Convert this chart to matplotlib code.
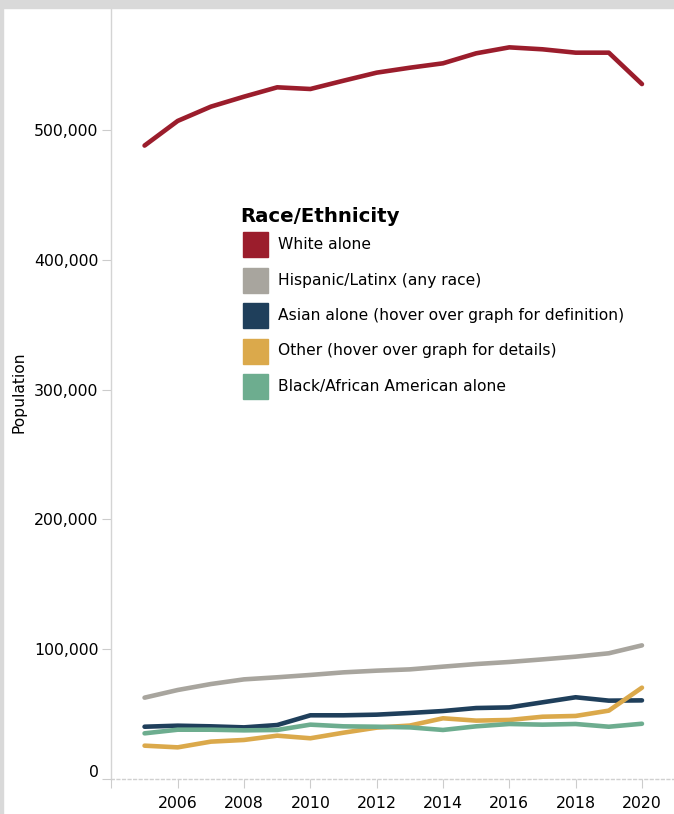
import matplotlib
matplotlib.use("Agg")
import matplotlib.pyplot as plt
from matplotlib.patches import Rectangle
from matplotlib.transforms import ScaledTranslation

plt.rcParams['font.family'] = ['DejaVu Sans']

years = list(range(2005, 2021))

white = [488000, 507000, 518000, 525700, 532900, 531600, 538000, 544200,
         548000, 551400, 559100, 563700, 562200, 559600, 559600, 535400]
hispanic = [62500, 68400, 73000, 76600, 78200, 80000, 82000, 83300,
            84300, 86400, 88400, 90000, 92000, 94100, 96700, 102800]
asian = [40100, 40900, 40400, 39600, 41400, 48900, 48900, 49400,
         50700, 52200, 54500, 55000, 58900, 62800, 60200, 60400]
black = [35000, 37800, 37800, 37300, 37600, 41700, 40400, 40100,
         39600, 37600, 40400, 42200, 41700, 42200, 40100, 42400]
other = [25500, 24200, 28600, 29900, 33200, 31200, 35500, 39400,
         41000, 46600, 44800, 45300, 47800, 48400, 52500, 70200]

series_names = ["White alone",
                "Hispanic/Latinx (any race)",
                "Asian alone (hover over graph for definition)",
                "Other (hover over graph for details)",
                "Black/African American alone"]
series_values = [white, hispanic, asian, other, black]
series_colors = ["#9b1d2c", "#a8a59e", "#1f3f5b", "#dba94b", "#6dad8f"]
legend_title = "Race/Ethnicity"

y_ticks = [0, 100000, 200000, 300000, 400000, 500000]
x_ticks = list(range(2004, 2021, 2))

W, H = 674, 814
fig = plt.figure(figsize=(W / 100, H / 100), dpi=100)


def fx(px):
    return px / W


def fy(py):
    return 1 - py / H


# frame bands along the top and left edges
fig.patches.append(Rectangle((0, fy(8)), 1, 8 / H, transform=fig.transFigure,
                             color="#d9d9d9", zorder=0))
fig.patches.append(Rectangle((0, 0), fx(3), 1, transform=fig.transFigure,
                             color="#d9d9d9", zorder=0))

x0_px, y0_px, top_px = 111.4, 778.75, 8.7
px_per_year = 33.16
px_per_unit = 129.75 / 100000
ax = fig.add_axes([fx(x0_px), fy(y0_px), (W - x0_px) / W, (y0_px - top_px) / H])
ax.set_xlim(2004, 2004 + (W - x0_px) / px_per_year)
ax.set_ylim(0, (y0_px - top_px) / px_per_unit)

draw_order = [0, 1, 4, 2, 3]
for i in draw_order:
    ax.plot(years, series_values[i], color=series_colors[i], lw=3.3,
            solid_capstyle="round", solid_joinstyle="round", zorder=3 + i)

for s in ["top", "right"]:
    ax.spines[s].set_visible(False)
ax.spines["left"].set_color("#d4d4d4")
ax.spines["left"].set_linewidth(1.0)
ax.spines["bottom"].set_color("#d0d0d0")
ax.spines["bottom"].set_linewidth(1.0)
ax.spines["bottom"].set_linestyle((0, (2, 2)))

ax.set_yticks(y_ticks)
ax.set_yticklabels([f"{v:,}" for v in y_ticks])
ax.set_xticks(x_ticks)
ax.set_xticklabels(["" if v == 2004 else str(v) for v in x_ticks])
ax.tick_params(axis="both", colors="#cccccc", labelcolor="#000000",
               labelsize=11.3, length=6.2, width=0.8)
ax.tick_params(axis="y", pad=3.0)
ax.tick_params(axis="x", pad=6.5)

# keep the zero label inside the plot's vertical range
for lab in ax.get_yticklabels():
    if lab.get_text() == "0":
        lab.set_transform(lab.get_transform() +
                          ScaledTranslation(0, 8 / 100, fig.dpi_scale_trans))

fig.text(fx(19), fy(392), "Population", rotation=90, ha="center", va="center",
         fontsize=11.2, color="#000000")

# legend: bold title, square swatches with labels
fig.text(fx(240), fy(217), legend_title, ha="left", va="center",
         fontsize=14.2, fontweight="bold", color="#000000")
row0, row_step, sw = 244.5, 35.5, 25
for k, (name, color) in enumerate(zip(series_names, series_colors)):
    cy = row0 + k * row_step
    fig.patches.append(Rectangle((fx(243), fy(cy + sw / 2)), sw / W, sw / H,
                                 transform=fig.transFigure, color=color, zorder=5))
    fig.text(fx(278), fy(cy), name, ha="left", va="center",
             fontsize=11.2, color="#000000")

fig.savefig("out.png", dpi=100)
